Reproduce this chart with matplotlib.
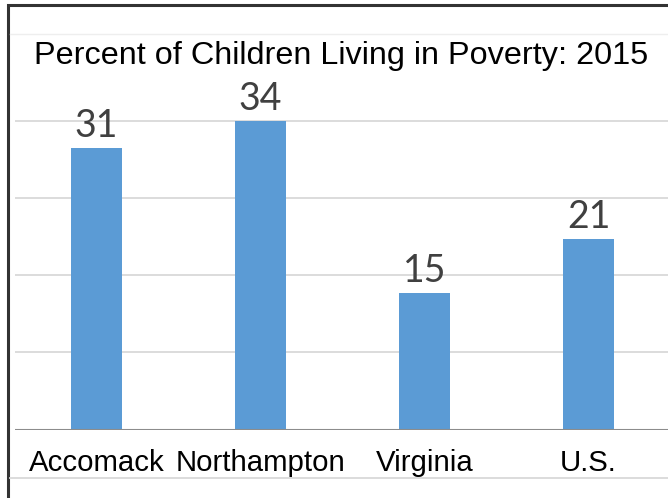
import matplotlib.pyplot as plt
from matplotlib.patches import Rectangle
from matplotlib.lines import Line2D

# data
places = ["Accomack", "Northampton", "Virginia", "U.S."]
pct = [31, 34, 15, 21]
grid_vals = [8.5, 17, 25.5, 34]

W, H = 668, 498
fig = plt.figure(figsize=(W / 100, H / 100), dpi=100)

# axes: baseline at y=429.5px, 9.07 px per unit, categories 164px apart
x0, x1 = 14.5, 670.5
base = 429.5
ppu = 9.07
top_px = 34
ymax = (base - top_px) / ppu
ax = fig.add_axes([x0 / W, (H - base) / H, (x1 - x0) / W, (base - top_px) / H])
ax.set_xlim(-0.5, 3.5)
ax.set_ylim(0, ymax)

for g in grid_vals:
    ax.axhline(g, color="#d9d9d9", lw=1.3, zorder=0)
ax.axhline(0, color="#8c8c8c", lw=1.5, zorder=3)

bars = ax.bar(range(len(places)), pct, width=0.315, color="#5b9bd5", zorder=2)
for b, v in zip(bars, pct):
    ax.text(b.get_x() + b.get_width() / 2, v + 11 / ppu, str(v),
            ha="center", va="baseline", fontsize=27, family="Lato", color="#404040")

for i, name in enumerate(places):
    ax.text(i, -(471 - base) / ppu, name, ha="center", va="baseline",
            fontsize=21.2, family="Liberation Sans", color="black")

for s in ax.spines.values():
    s.set_visible(False)
ax.set_xticks([])
ax.set_yticks([])

fig.text(341 / W, 1 - 64 / H, "Percent of Children Living in Poverty: 2015",
         ha="center", va="baseline", fontsize=23.3, family="Liberation Sans", color="black")

# faint plot area lines top and bottom
fig.add_artist(Line2D([10 / W, 1], [1 - 34 / H] * 2, color="#eeeeee", lw=1))
fig.add_artist(Line2D([10 / W, 1], [1 - 478 / H] * 2, color="#d9d9d9", lw=1.3))

# outer frame (only left and top visible)
fig.add_artist(Rectangle((8 / W, -0.1), 1.2, 1 - 5.5 / H + 0.1, transform=fig.transFigure,
                         fill=False, edgecolor="#333333", lw=2.2))

fig.savefig("out.png", dpi=100)
